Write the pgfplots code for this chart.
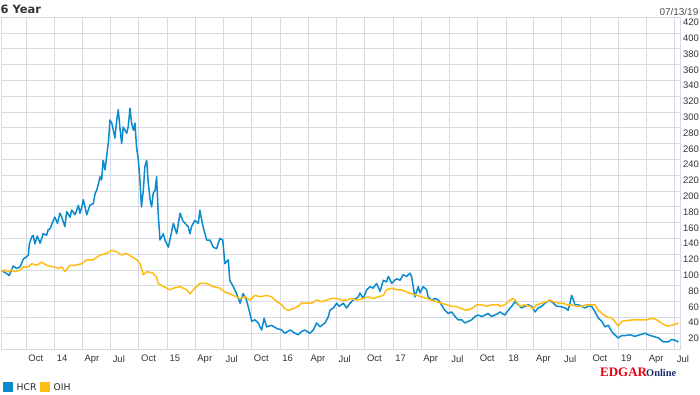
\documentclass[border=0pt]{standalone}
\usepackage{pgfplots}
\pgfplotsset{compat=1.18}
\usepackage{fontspec}
\setmainfont{Liberation Sans}
\newfontfamily\dejabold{DejaVu Sans}
\newfontfamily\dejasans{DejaVu Sans}
\newfontfamily\lserif{Liberation Serif}
\definecolor{hcrblue}{HTML}{0B8ACD}
\definecolor{oihyellow}{HTML}{FFBC12}
\definecolor{gridc}{HTML}{D6DBE3}
\definecolor{txt}{HTML}{333333}
\definecolor{edgarred}{HTML}{E3000F}
\definecolor{onlinenavy}{HTML}{1B2B6B}
\begin{document}
\begin{tikzpicture}
\useasboundingbox (0,0) rectangle (700bp,-395bp);
\begin{axis}[
  at={(1.5bp,-349bp)}, anchor=south west,
  scale only axis, width=678.5bp, height=331.7bp,
  xmin=0, xmax=2196, ymin=0, ymax=420,
  axis line style={draw=gridc, line width=1bp},
  grid=major, major grid style={draw=gridc, line width=1bp},
  major tick length=0pt, tick style={draw=none},
  xtick={80,172,262,353,445,537,627,718,810,902,993,1084,1176,1268,1358,1449,1541,1633,1723,1814,1906,1998,2088,2179},
  xticklabels={Oct,14,Apr,Jul,Oct,15,Apr,Jul,Oct,16,Apr,Jul,Oct,17,Apr,Jul,Oct,18,Apr,Jul,Oct,19,Apr,Jul},
  ytick={20,40,...,420},
  yticklabel pos=right,
  /pgf/number format/assume math mode=true,
  xticklabel style={anchor=north west, inner sep=0pt, xshift=2bp, yshift=-6bp, font=\fontsize{9.5}{11}\selectfont, text=txt},
  yticklabel style={anchor=east, inner sep=0pt, xshift=19bp, yshift=-5.2bp, font=\fontsize{9.5}{11}\selectfont, text=txt},
]
\addplot[color=hcrblue, line width=1.5bp, line join=round] coordinates {
(0,99)(11,97)(25,93)(38,105)(49,102)(60,104)(71,114)(82,117)(87,119)(90,133)(98,142)(103,144)(108,133)(116,143)(125,134)(135,146)(146,144)(151,151)(157,152)(168,163)(173,167)(181,159)(189,172)(195,167)(205,155)(211,174)(222,167)(227,176)(238,170)(249,182)(254,172)(260,180)(265,189)(276,170)(286,182)(297,184)(303,197)(308,201)(313,208)(319,218)(324,214)(329,239)(335,227)(340,243)(346,262)(351,290)(357,286)(362,277)(367,267)(373,290)(378,303)(383,281)(389,260)(394,281)(400,277)(405,273)(410,281)(416,305)(421,286)(427,277)(432,286)(437,256)(443,239)(448,214)(453,180)(459,201)(464,231)(470,239)(475,210)(481,189)(486,180)(491,197)(497,201)(502,218)(507,172)(513,138)(524,146)(529,138)(540,129)(545,138)(556,159)(567,146)(578,172)(586,163)(594,159)(604,155)(610,146)(615,155)(626,163)(637,159)(642,176)(648,163)(655,151)(664,138)(675,138)(685,129)(696,127)(707,140)(716,138)(723,108)(734,113)(739,87)(750,79)(761,70)(772,58)(782,70)(793,62)(804,45)(810,35)(820,37)(831,33)(842,24)(850,39)(858,28)(874,30)(891,26)(907,24)(917,20)(934,24)(950,20)(960,18)(971,22)(982,24)(998,20)(1009,24)(1020,33)(1031,28)(1047,33)(1058,41)(1063,49)(1074,52)(1085,58)(1093,54)(1106,58)(1117,52)(1128,58)(1138,62)(1155,66)(1160,71)(1171,64)(1182,75)(1193,79)(1203,77)(1214,83)(1225,73)(1236,87)(1246,85)(1252,92)(1263,83)(1273,87)(1279,89)(1290,87)(1300,94)(1311,92)(1322,96)(1327,92)(1338,66)(1349,79)(1354,71)(1365,79)(1376,75)(1381,66)(1392,62)(1403,64)(1414,62)(1424,56)(1435,49)(1446,45)(1457,47)(1468,41)(1478,37)(1489,37)(1500,33)(1511,35)(1522,37)(1532,41)(1543,43)(1554,41)(1565,43)(1575,45)(1586,41)(1597,43)(1608,45)(1613,47)(1629,43)(1640,49)(1651,54)(1662,60)(1672,56)(1683,52)(1694,54)(1705,56)(1716,54)(1727,47)(1737,52)(1748,54)(1759,58)(1775,62)(1786,58)(1797,54)(1807,54)(1824,52)(1834,49)(1840,58)(1845,68)(1851,62)(1856,56)(1867,56)(1878,54)(1889,52)(1899,54)(1910,54)(1921,47)(1932,39)(1943,35)(1953,28)(1964,30)(1975,22)(1985,18)(1996,14)(2007,17)(2018,17)(2034,18)(2050,16)(2066,18)(2083,20)(2093,18)(2109,16)(2126,14)(2142,9)(2158,9)(2169,12)(2180,11)(2191,9)
};
\addplot[color=oihyellow, line width=1.5bp, line join=round] coordinates {
(0,98)(11,100)(22,98)(33,100)(44,98)(60,100)(71,104)(87,104)(98,108)(114,106)(130,110)(146,106)(168,104)(184,102)(195,104)(205,98)(222,106)(238,106)(260,108)(276,113)(297,113)(319,119)(340,121)(357,125)(373,123)(389,119)(405,121)(421,117)(438,113)(448,108)(459,94)(470,98)(491,96)(502,91)(507,83)(524,79)(545,75)(556,77)(578,79)(599,75)(610,70)(621,75)(642,83)(664,83)(685,79)(707,77)(723,72)(739,70)(750,68)(772,64)(788,66)(804,62)(815,66)(820,68)(837,66)(858,68)(874,66)(891,60)(907,56)(917,51)(928,49)(944,51)(960,54)(971,58)(988,58)(1004,58)(1020,62)(1036,60)(1052,62)(1069,64)(1085,64)(1101,62)(1117,62)(1133,64)(1149,62)(1171,64)(1187,66)(1203,64)(1219,66)(1236,68)(1246,75)(1263,77)(1279,75)(1295,75)(1311,72)(1327,70)(1344,68)(1360,66)(1376,64)(1392,62)(1408,60)(1424,58)(1441,56)(1457,54)(1473,54)(1489,51)(1505,49)(1522,51)(1538,56)(1554,56)(1570,54)(1586,56)(1608,56)(1613,54)(1629,56)(1646,62)(1656,64)(1667,60)(1678,54)(1694,56)(1710,54)(1721,51)(1732,56)(1748,58)(1764,60)(1775,62)(1786,60)(1802,58)(1818,58)(1829,56)(1845,56)(1862,54)(1878,54)(1894,56)(1910,56)(1921,56)(1932,49)(1943,45)(1958,41)(1975,39)(1985,35)(1996,29)(2007,35)(2023,36)(2045,37)(2066,37)(2088,37)(2109,39)(2120,37)(2136,33)(2153,29)(2169,30)(2185,32)(2191,33)
};
\end{axis}
% title and date
\node[anchor=base west, inner sep=0pt, text=txt, font=\dejabold\bfseries\fontsize{11.5}{13}\selectfont] at (0.5bp,-13.3bp) {6 Year};
\node[anchor=base east, inner sep=0pt, text=txt!85, font=\fontsize{10}{12}\selectfont] at (698.5bp,-15.5bp) {07/13/19};
% legend
\fill[hcrblue] (2.7bp,-381.7bp) rectangle (12.7bp,-391.7bp);
\node[anchor=base west, inner sep=0pt, text=black!85, font=\dejasans\fontsize{9.3}{11}\selectfont] at (16.5bp,-390.7bp) {HCR};
\fill[oihyellow] (40bp,-381.7bp) rectangle (50bp,-391.7bp);
\node[anchor=base west, inner sep=0pt, text=black!85, font=\dejasans\fontsize{9.3}{11}\selectfont] at (53.3bp,-390.7bp) {OIH};
% logo
\node[anchor=base west, inner sep=0pt, text=edgarred, font=\lserif\bfseries\fontsize{13}{15}\selectfont] at (600bp,-376bp) {EDGAR};
\node[anchor=base west, inner sep=0pt, text=onlinenavy, font=\lserif\bfseries\fontsize{10.4}{12}\selectfont] at (646bp,-376bp) {Online};
\end{tikzpicture}
\end{document}
